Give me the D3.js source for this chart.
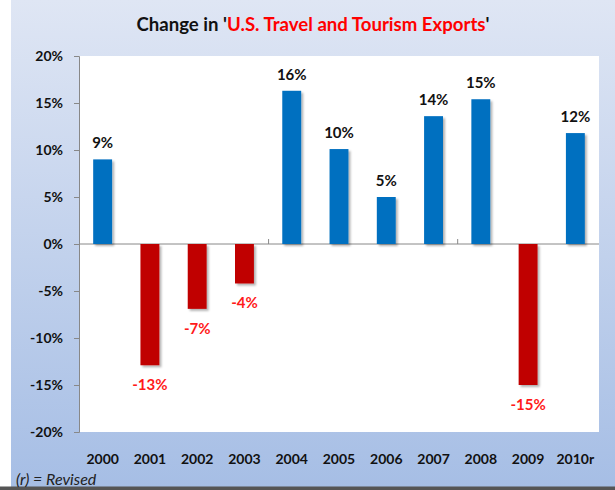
<!DOCTYPE html>
<html><head><meta charset="utf-8">
<script src="https://cdn.jsdelivr.net/npm/d3@7/dist/d3.min.js"></script>
<style>body{margin:0;background:#fff}svg{display:block}</style>
</head><body>
<svg id="c" width="615" height="490"></svg>
<script>
const categories = ["2000","2001","2002","2003","2004","2005","2006","2007","2008","2009","2010r"];
const values = [9.0, -12.9, -6.9, -4.2, 16.3, 10.1, 5.0, 13.6, 15.4, -15.0, 11.8];
const labels = ["9%","-13%","-7%","-4%","16%","10%","5%","14%","15%","-15%","12%"];
const yTicks = [-20,-15,-10,-5,0,5,10,15,20];
const titleParts = [["Change in '", "#111"],["U.S. Travel and Tourism Exports", "#ff0000"],["'", "#111"]];
const footnote = "(r) = Revised";

const svg = d3.select("#c");
const font = "Lato, 'Open Sans', sans-serif";
const defs = svg.append("defs");
const g = defs.append("linearGradient").attr("id","bg").attr("x1",0).attr("y1",0).attr("x2",0).attr("y2",1);
g.append("stop").attr("offset","0%").attr("stop-color","#dfe6f4");
g.append("stop").attr("offset","100%").attr("stop-color","#a6bee5");
const f = defs.append("filter").attr("id","sh").attr("x","-20%").attr("y","-20%").attr("width","160%").attr("height","160%");
f.append("feDropShadow").attr("dx",2).attr("dy",2).attr("stdDeviation",1.2).attr("flood-color","#000").attr("flood-opacity",0.3);

svg.append("rect").attr("x",11).attr("y",0).attr("width",604).attr("height",487).attr("fill","url(#bg)");
svg.append("rect").attr("x",0).attr("y",486.5).attr("width",615).attr("height",3.5).attr("fill","#555");

const L=79, R=599, T=56, B=432;
svg.append("rect").attr("x",L).attr("y",T).attr("width",R-L).attr("height",B-T).attr("fill","#fff");

const x = d3.scaleBand().domain(categories).range([L,R]).paddingInner(0.6).paddingOuter(0.3);
const y = d3.scaleLinear().domain([-20,20]).range([B,T]);

// title
const t = svg.append("text").attr("x",313).attr("y",31).attr("text-anchor","middle")
  .attr("font-family",font).attr("font-weight","bold").attr("font-size",18.5)
  .attr("textLength",353).attr("lengthAdjust","spacingAndGlyphs");
titleParts.forEach(([s,c])=>t.append("tspan").attr("fill",c).text(s));

// y axis
const ya = svg.append("g").attr("transform",`translate(${L},0)`)
  .call(d3.axisLeft(y).tickValues(yTicks).tickFormat(d=>d+"%").tickSize(5).tickPadding(11));
ya.select(".domain").attr("stroke","#888");
ya.selectAll(".tick line").attr("stroke","#888");
ya.selectAll("text").attr("font-family",font).attr("font-weight","bold").attr("font-size",14).attr("fill","#111");

// zero axis line with sparse category ticks
const xa = svg.append("g").attr("transform",`translate(0,${y(0)})`)
  .call(d3.axisTop(d3.scaleLinear().domain([0,categories.length]).range([L,R])).tickValues([4,8]).tickSize(5).tickFormat(""));
xa.select(".domain").attr("stroke","#888").attr("d",`M${L},0H${R}`);
xa.selectAll(".tick line").attr("stroke","#888");

// bars
svg.append("g").selectAll("rect").data(values).join("rect")
  .attr("x",(d,i)=>x(categories[i]))
  .attr("width",x.bandwidth())
  .attr("y",d=>d>=0?y(d):y(0))
  .attr("height",d=>Math.abs(y(d)-y(0)))
  .attr("fill",d=>d>=0?"#0070c0":"#c00000")
  .attr("filter","url(#sh)");

// value labels
svg.append("g").selectAll("text").data(values).join("text")
  .attr("x",(d,i)=>x(categories[i])+x.bandwidth()/2)
  .attr("y",d=>d>=0?y(d)-11:y(d)+25)
  .attr("text-anchor","middle")
  .attr("font-family",font).attr("font-weight","bold").attr("font-size",15)
  .attr("fill",d=>d>=0?"#111":"#ff1a1a")
  .text((d,i)=>labels[i]);

// category labels
svg.append("g").selectAll("text").data(categories).join("text")
  .attr("x",d=>x(d)+x.bandwidth()/2).attr("y",464).attr("text-anchor","middle")
  .attr("font-family",font).attr("font-weight","bold").attr("font-size",14).attr("fill","#111")
  .text(d=>d);

svg.append("text").attr("x",16).attr("y",485).attr("font-family",font).attr("font-style","italic")
  .attr("font-size",16).attr("fill","#222").text(footnote);
</script>
</body></html>
